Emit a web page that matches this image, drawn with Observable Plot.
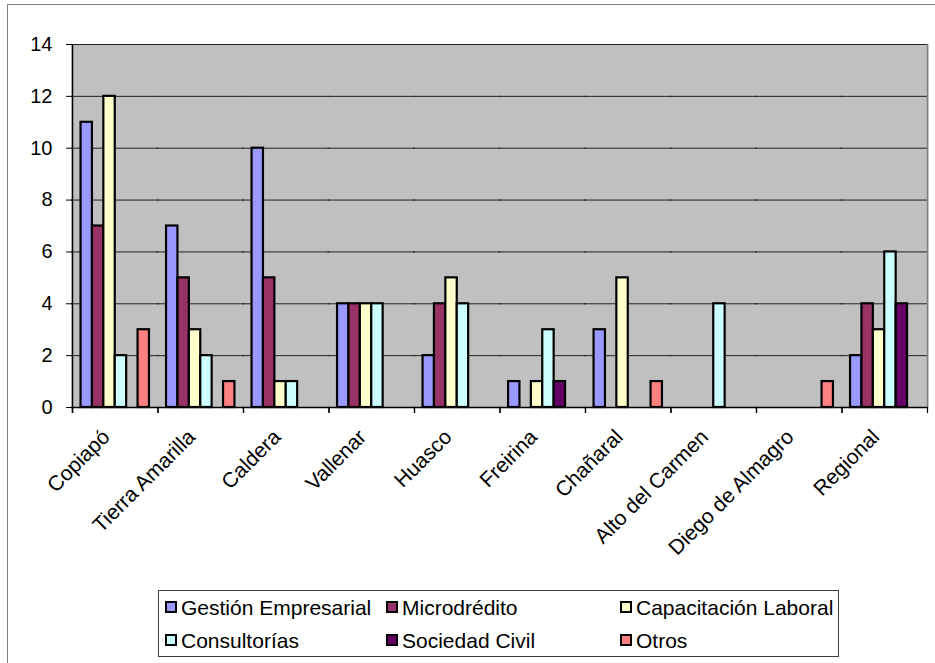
<!DOCTYPE html>
<html><head><meta charset="utf-8">
<script src="https://cdn.jsdelivr.net/npm/d3@7"></script>
<script src="https://cdn.jsdelivr.net/npm/@observablehq/plot@0.6"></script>
<style>
body{margin:0;background:#fff;font-family:"Liberation Sans",Arial,sans-serif;}
#wrap{position:relative;width:935px;height:663px;overflow:hidden;background:#fff;}
#border{position:absolute;left:7px;top:4px;width:940px;height:700px;border:1px solid #808080;}
#chart{position:absolute;left:0;top:0;}
#legend{position:absolute;left:158px;top:590px;width:681px;height:67px;border:1px solid #404040;box-sizing:border-box;background:#fff;}
.item{position:absolute;font-size:21px;line-height:21px;color:#000;white-space:nowrap;}
.sw{display:inline-block;width:8px;height:8px;border:2px solid #000;margin-right:4px;vertical-align:2px;}
</style>
</head><body>
<div id="wrap"><div id="border"></div><div id="chart"></div><div id="legend"></div></div>
<script>
const categories = ["Copiapó","Tierra Amarilla","Caldera","Vallenar","Huasco","Freirina","Chañaral","Alto del Carmen","Diego de Almagro","Regional"];
const seriesNames = ["Gestión Empresarial","Microdrédito","Capacitación Laboral","Consultorías","Sociedad Civil","Otros"];
const gestion      = [11, 7, 10, 4, 2, 1, 3, 0, 0, 2];
const microcredito = [ 7, 5,  5, 4, 4, 0, 0, 0, 0, 4];
const capacitacion = [12, 3,  1, 4, 5, 1, 5, 0, 0, 3];
const consultorias = [ 2, 2,  1, 4, 4, 3, 0, 4, 0, 6];
const sociedad     = [ 0, 0,  0, 0, 0, 1, 0, 0, 0, 4];
const otros        = [ 3, 1,  0, 0, 0, 0, 1, 0, 1, 0];
const seriesColors = ["#9999FF","#993366","#FFFFCC","#CCFFFF","#660066","#FF8080"];
const yTicks = [0, 2, 4, 6, 8, 10, 12, 14];

const seriesValues = [gestion, microcredito, capacitacion, consultorias, sociedad, otros];
const data = [];
categories.forEach((c, i) => seriesNames.forEach((s, j) => data.push({cat: c, series: s, value: seriesValues[j][i]})));

const W = 935, H = 580, ML = 72, MR = 8, MT = 44, MB = 173;
const facetStep = (W - ML - MR) / categories.length;     // width of one category
const barStep = facetStep / (seriesNames.length + 1.5);   // width of one bar
const edge = barStep * 1.25;                               // first/last bar centre to category edge

const chart = Plot.plot({
  width: W, height: H,
  marginLeft: ML, marginRight: MR, marginTop: MT, marginBottom: MB,
  style: {fontFamily: '"Liberation Sans", Arial, sans-serif', color: "#000", background: "transparent"},
  fx: {domain: categories, padding: 0, round: false, label: null},
  x: {domain: seriesNames, paddingInner: 0, paddingOuter: 0.75, round: false, axis: null},
  y: {domain: [0, 14], label: null},
  color: {domain: seriesNames, range: seriesColors},
  marks: [
    Plot.frame({fill: "#C0C0C0", stroke: "none", insetLeft: -1, insetRight: -1}),
    Plot.ruleY(yTicks.filter(d => d > 0), {stroke: "#222", strokeWidth: 1, insetLeft: -1, insetRight: -1}),
    Plot.ruleX([seriesNames[seriesNames.length - 1]], {fx: () => categories[categories.length - 1], dx: edge, stroke: "#808080", strokeWidth: 1.5}),
    Plot.barY(data.filter(d => d.value > 0), {fx: "cat", x: "series", y: "value", fill: "series", stroke: "#000", strokeWidth: 2.2}),
    Plot.ruleY([0], {stroke: "#000", strokeWidth: 1.5, insetLeft: -1, insetRight: -1}),
    Plot.ruleX([seriesNames[0]], {fx: () => categories[0], dx: -edge, stroke: "#000", strokeWidth: 1.5, insetBottom: -6}),
    Plot.axisFx({anchor: "bottom", text: null, tickSize: 6, dx: -facetStep / 2, stroke: "#000", strokeWidth: 1.2, label: null}),
    Plot.axisFx([categories[categories.length - 1]], {anchor: "bottom", text: null, tickSize: 6, dx: facetStep / 2, stroke: "#000", strokeWidth: 1.2, label: null}),
    Plot.axisY(yTicks, {tickSize: 6, tickPadding: 14, fontSize: 20, stroke: "#000"}),
    Plot.axisFx({anchor: "bottom", tickRotate: -45, tickSize: 0, tickPadding: 14, fontSize: 21, dx: -9, dy: 12, label: null})
  ]
});
document.getElementById("chart").appendChild(chart);

const legend = document.getElementById("legend");
const pos = [[6, 6], [227, 6], [461, 6], [6, 39], [227, 39], [461, 39]];
seriesNames.forEach((s, i) => {
  const d = document.createElement("div");
  d.className = "item";
  d.style.left = pos[i][0] + "px";
  d.style.top = pos[i][1] + "px";
  d.innerHTML = `<span class="sw" style="background:${seriesColors[i]}"></span>${s}`;
  legend.appendChild(d);
});
</script>
</body></html>
